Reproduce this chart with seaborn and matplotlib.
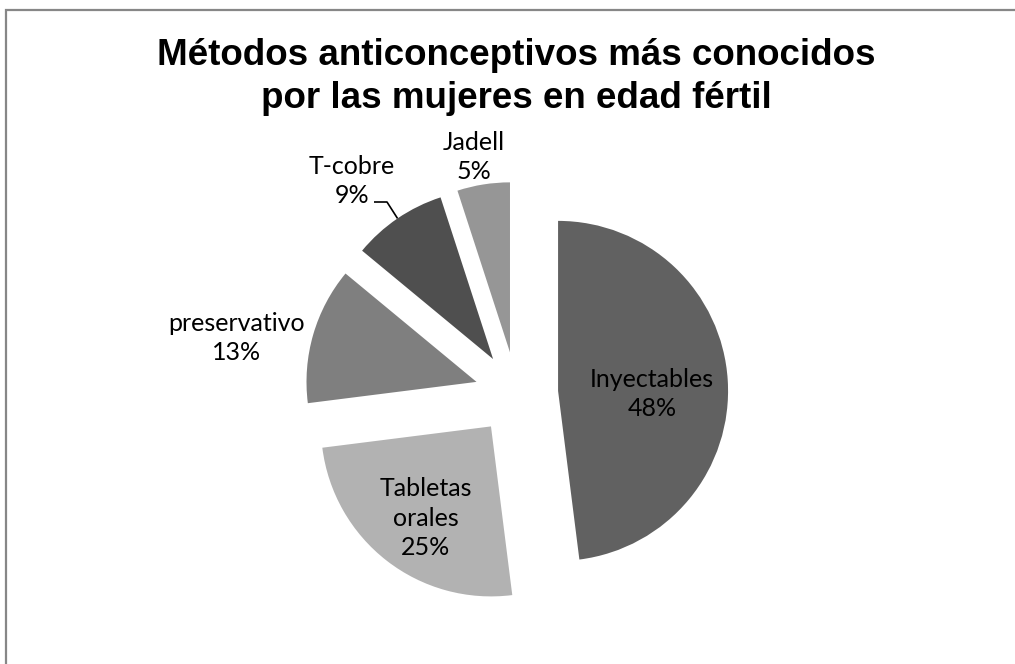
import numpy as np
import matplotlib
matplotlib.use("Agg")
import matplotlib.pyplot as plt
from matplotlib.patches import Rectangle
import seaborn as sns

# Data
methods = ["Inyectables", "Tabletas\norales", "preservativo", "T-cobre", "Jadell"]
shares = [48, 25, 13, 9, 5]

# Styling
slice_colors = ["#616161", "#b2b2b2", "#7f7f7f", "#4f4f4f", "#969696"]

sns.set_theme(style="white")
plt.rcParams["font.family"] = ["Lato", "DejaVu Sans"]

W, H = 1015, 664
fig = plt.figure(figsize=(W / 100, H / 100), dpi=100)
ax = fig.add_axes([0, 0, 1, 1])


def px(x, y):
    """Pixel position (top-left origin) to axes data coordinates."""
    return x, H - y


radius = 170
center = px(516.5, 393.5)
explode = [0.245 * radius] * len(shares)

wedges, _ = ax.pie(
    shares,
    colors=slice_colors,
    explode=explode,
    radius=radius,
    center=center,
    startangle=90,
    counterclock=False,
    wedgeprops=dict(linewidth=0),
    frame=True,
)
ax.set_xlim(0, W)
ax.set_ylim(0, H)
ax.set_aspect("equal")
ax.axis("off")

# Data labels: (text position in pixels)
label_pos = [
    (652, 394),   # Inyectables (inside)
    (426, 518),   # Tabletas orales (inside)
    (237, 338),   # preservativo
    (352, 181),   # T-cobre
    (474, 157),   # Jadell
]
label_font = dict(fontsize=18, color="black", ha="center", va="center",
                  linespacing=1.36)
for name, val, (lx, ly) in zip(methods, shares, label_pos):
    ax.text(*px(lx, ly), f"{name}\n{val}%", **label_font)

# Leader line for the T-cobre label, from the middle of its arc
w = wedges[3]
thetam = np.deg2rad(0.5 * (w.theta1 + w.theta2))
arc_mid = (w.center[0] + w.r * np.cos(thetam), w.center[1] + w.r * np.sin(thetam))
elbow = px(387, 202)
end = px(374, 202)
ax.plot([arc_mid[0], elbow[0], end[0]], [arc_mid[1], elbow[1], end[1]],
        color="black", linewidth=1.2, solid_capstyle="butt")

# Title (baseline of the second line)
fig.text(516 / W, 1 - 108 / H,
         "Métodos anticonceptivos más conocidos\npor las mujeres en edad fértil",
         ha="center", va="baseline", fontsize=26.5, fontweight="bold",
         family=["Liberation Sans", "DejaVu Sans"], linespacing=1.3,
         color="black")

# Chart area border
fig.patches.append(Rectangle((5.5 / W, -0.1), 1.2, 1 + 0.1 - 10 / H,
                             transform=fig.transFigure, fill=False,
                             edgecolor="#878787", linewidth=1.6))

fig.savefig("out.png", dpi=100, facecolor="white")
